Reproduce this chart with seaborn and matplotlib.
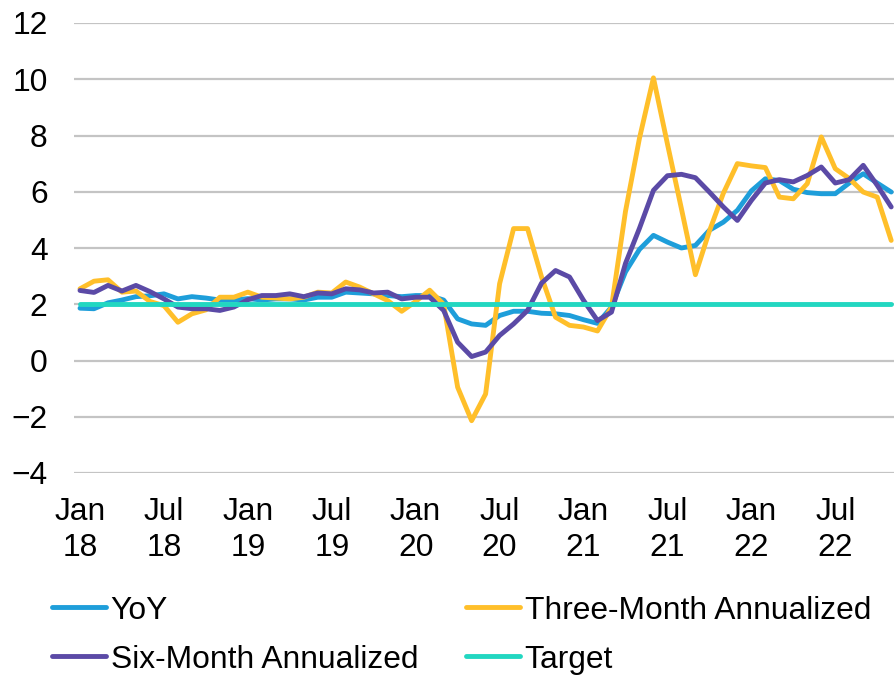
import matplotlib
matplotlib.use('Agg')
import matplotlib.pyplot as plt
import pandas as pd
import seaborn as sns

# monthly, Jan 2018 .. Nov 2022
months = pd.date_range('2018-01-01', '2022-11-01', freq='MS')

yoy = [1.86, 1.84, 2.05, 2.15, 2.27, 2.30, 2.37, 2.19, 2.27, 2.22, 2.15, 2.15,
       2.20, 2.15, 2.19, 2.19, 2.15, 2.25, 2.25, 2.43, 2.40, 2.37, 2.31, 2.27,
       2.31, 2.31, 2.15, 1.48, 1.30, 1.25, 1.60, 1.75, 1.75, 1.68, 1.66, 1.60,
       1.45, 1.32, 1.90, 3.15, 3.95, 4.45, 4.21, 4.00, 4.09, 4.63, 4.92, 5.34,
       6.03, 6.46, 6.40, 6.09, 5.97, 5.93, 5.93, 6.31, 6.64, 6.31, 5.99]

three_month = [2.55, 2.82, 2.87, 2.43, 2.47, 2.10, 1.95, 1.36, 1.66, 1.80, 2.25, 2.25,
               2.43, 2.25, 2.22, 2.19, 2.25, 2.43, 2.40, 2.79, 2.61, 2.37, 2.13, 1.75,
               2.10, 2.50, 2.00, -0.95, -2.14, -1.19, 2.73, 4.69, 4.69, 2.97, 1.54, 1.25,
               1.19, 1.05, 1.90, 5.30, 7.90, 10.05, 7.70, 5.40, 3.05, 4.60, 5.95, 7.00,
               6.92, 6.86, 5.81, 5.75, 6.29, 7.95, 6.82, 6.47, 5.99, 5.81, 4.27]

six_month = [2.49, 2.42, 2.67, 2.47, 2.67, 2.45, 2.19, 1.90, 1.84, 1.84, 1.78, 1.90,
             2.16, 2.31, 2.31, 2.37, 2.27, 2.40, 2.37, 2.55, 2.51, 2.40, 2.43, 2.19,
             2.25, 2.25, 1.78, 0.65, 0.14, 0.30, 0.89, 1.30, 1.78, 2.75, 3.20, 2.97,
             2.14, 1.42, 1.72, 3.45, 4.70, 6.05, 6.57, 6.62, 6.50, 5.99, 5.46, 4.98,
             5.69, 6.31, 6.43, 6.35, 6.58, 6.88, 6.31, 6.43, 6.94, 6.23, 5.46]

target = [2.0] * len(months)

series_names = ['YoY', 'Three-Month Annualized', 'Six-Month Annualized', 'Target']
colors = {'YoY': '#1E9EDA', 'Three-Month Annualized': '#FFBF2A',
          'Six-Month Annualized': '#5B4AA6', 'Target': '#22D7C1'}

tick_pos = list(range(0, len(months), 6))
tick_labels = [f"{months[p].strftime('%b')}\n{months[p].strftime('%y')}" for p in tick_pos]

df = pd.DataFrame({'idx': range(len(months)), 'YoY': yoy,
                   'Three-Month Annualized': three_month,
                   'Six-Month Annualized': six_month, 'Target': target})
df_long = df.melt(id_vars='idx', var_name='series', value_name='value')

sns.set_style('white')
plt.rcParams['font.family'] = ['Liberation Sans', 'DejaVu Sans']
plt.rcParams['text.color'] = 'black'
plt.rcParams['xtick.color'] = 'black'
plt.rcParams['ytick.color'] = 'black'

fig = plt.figure(figsize=(8.94, 6.76), dpi=100)
ax = fig.add_axes([74 / 894, 1 - 473 / 676, 820 / 894, 450 / 676])

for name in series_names:
    sns.lineplot(data=df_long[df_long.series == name], x='idx', y='value',
                 color=colors[name], linewidth=3.5, ax=ax, label=name,
                 solid_joinstyle='round', solid_capstyle='round')

ax.set_ylim(-4, 12)
ax.set_yticks(range(-4, 13, 2))
ax.set_xlim(-0.43, 58.2)
ax.set_xticks(tick_pos)
ax.set_xticklabels(tick_labels, linespacing=1.28)
ax.yaxis.grid(True, color='#C4C4C4', linewidth=1.6)
ax.xaxis.grid(False)
ax.set_axisbelow(True)
for s in ax.spines.values():
    s.set_visible(False)
ax.tick_params(axis='y', length=0, pad=19, labelsize=22.9)
ax.tick_params(axis='x', length=0, pad=17, labelsize=22.9)
ax.set_xlabel('')
ax.set_ylabel('')

h, l = ax.get_legend_handles_labels()
lookup = dict(zip(l, h))
order = ['YoY', 'Six-Month Annualized', 'Three-Month Annualized', 'Target']
ax.legend([lookup[k] for k in order], order, ncol=2, frameon=False,
          fontsize=22.9, handlelength=1.7, handletextpad=0.15,
          columnspacing=1.5, labelspacing=0.6,
          loc='upper left', bbox_to_anchor=((39 - 74) / 820, -0.244),
          borderaxespad=0)

fig.savefig('out.png', dpi=100)
